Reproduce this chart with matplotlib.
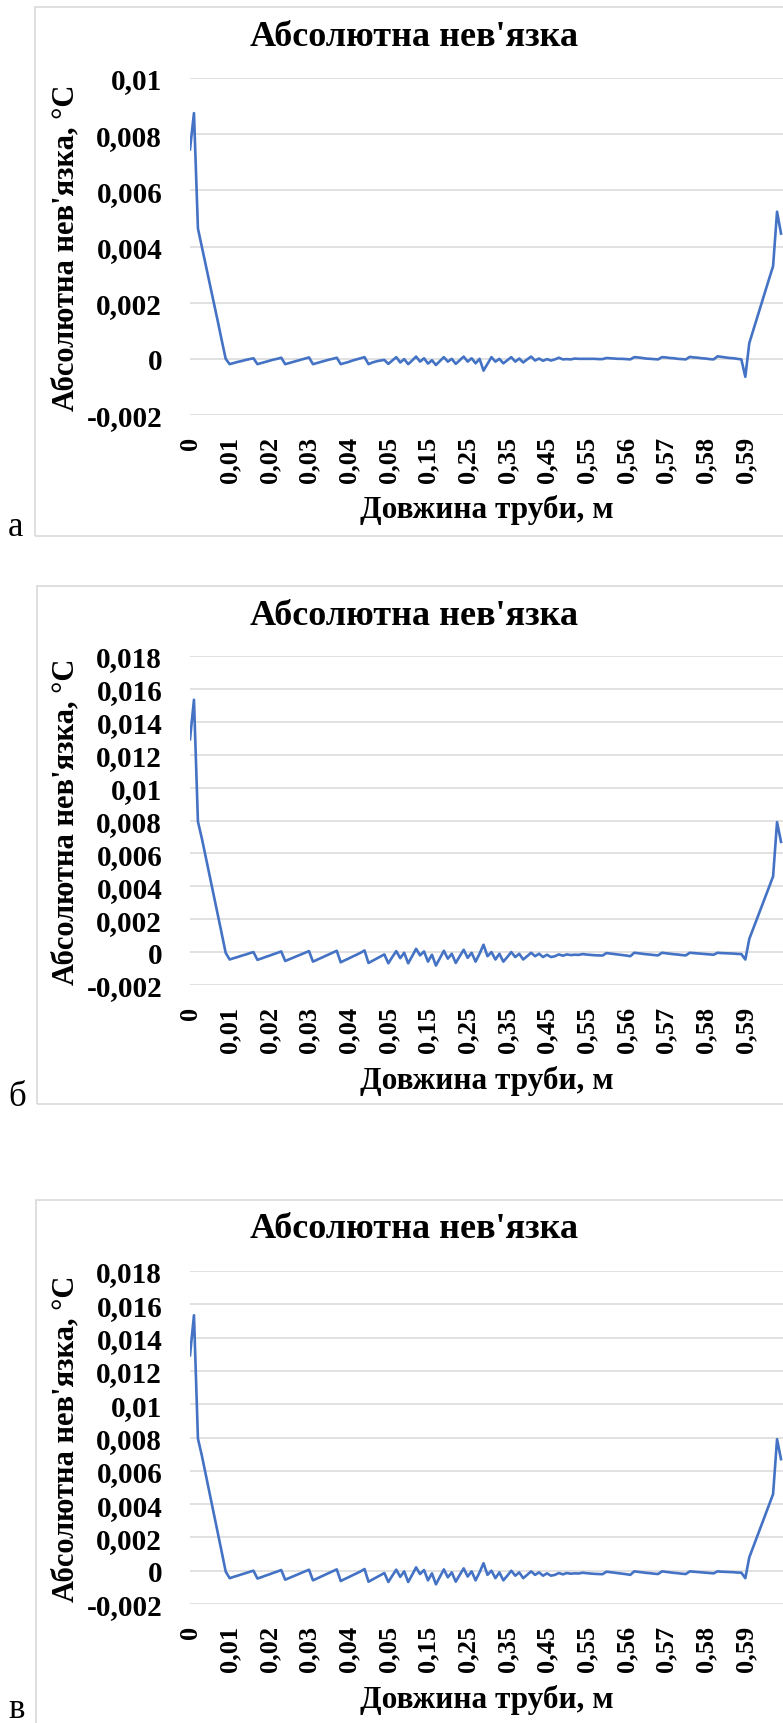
import numpy as np
import matplotlib
matplotlib.use("Agg")
import matplotlib.pyplot as plt
from matplotlib.patches import Rectangle

plt.rcParams["font.family"] = ["Liberation Serif", "DejaVu Serif"]
plt.rcParams["font.weight"] = "bold"

W, H = 783, 1724

# Абсолютна нев'язка по довжині труби (крок сітки 0,001 / 0,01 / 0,001 м)
x_labels = ["0", "0,01", "0,02", "0,03", "0,04", "0,05", "0,15", "0,25",
            "0,35", "0,45", "0,55", "0,56", "0,57", "0,58", "0,59"]

residual_a = [
    0.00746, 0.00875, 0.00464, 0.00398, 0.00332, 0.00266, 0.00200, 0.00134, 0.00066, 0.00000,
    -0.00019, -0.00015, -0.00011, -0.00008, -0.00004, -0.00001, 0.00002,
    -0.00019, -0.00015, -0.00011, -0.00007, -0.00003, 0.00000, 0.00004,
    -0.00019, -0.00015, -0.00011, -0.00007, -0.00003, 0.00001, 0.00005,
    -0.00019, -0.00015, -0.00011, -0.00007, -0.00003, 0.00000, 0.00004,
    -0.00019, -0.00015, -0.00011, -0.00006, -0.00002, 0.00002, 0.00006,
    -0.00019, -0.00013, -0.00009, -0.00006, -0.00004,
    -0.00018, -0.00006, 0.00006, -0.00013, -0.00001, -0.00019, -0.00006, 0.00008, -0.00010, 0.00002,
    -0.00017, -0.00005, -0.00022, -0.00008, 0.00006, -0.00010, 0.00000, -0.00018, -0.00005, 0.00008,
    -0.00010, 0.00002, -0.00016, 0.00000, -0.00042, -0.00018, 0.00006, -0.00010, 0.00000, -0.00016,
    -0.00005, 0.00006, -0.00010, 0.00001, -0.00013, -0.00002, 0.00008, -0.00006, 0.00001, -0.00007,
    -0.00001, -0.00006, -0.00002, 0.00004, -0.00002, -0.00001, -0.00002, 0.00001, 0.00000, 0.00000,
    0.00000, 0.00000, 0.00000, -0.00001, -0.00001,
    0.00003, 0.00002, 0.00001, 0.00000, 0.00000, -0.00001, -0.00002,
    0.00006, 0.00005, 0.00003, 0.00001, 0.00000, -0.00001, -0.00002,
    0.00006, 0.00005, 0.00003, 0.00002, 0.00000, -0.00001, -0.00002,
    0.00007, 0.00005, 0.00004, 0.00002, 0.00001, -0.00001, -0.00002,
    0.00009, 0.00007, 0.00005, 0.00003, 0.00002, 0.00000, -0.00002,
    -0.00064,
    0.00056, 0.00102, 0.00148, 0.00193, 0.00239, 0.00285, 0.00330,
    0.00524, 0.00446,
]

residual_b = [
    0.01294, 0.01534, 0.00793, 0.00690, 0.00575, 0.00460, 0.00345, 0.00230, 0.00112, -0.00005,
    -0.00045, -0.00037, -0.00030, -0.00022, -0.00015, -0.00007, 0.00000,
    -0.00047, -0.00039, -0.00030, -0.00022, -0.00013, -0.00005, 0.00004,
    -0.00054, -0.00044, -0.00034, -0.00024, -0.00014, -0.00004, 0.00006,
    -0.00058, -0.00047, -0.00036, -0.00025, -0.00014, -0.00003, 0.00008,
    -0.00062, -0.00050, -0.00039, -0.00027, -0.00016, -0.00004, 0.00010,
    -0.00066, -0.00053, -0.00040, -0.00027, -0.00014,
    -0.00068, -0.00030, 0.00006, -0.00037, -0.00004, -0.00068, -0.00025, 0.00020, -0.00020, 0.00004,
    -0.00058, -0.00016, -0.00082, -0.00037, 0.00008, -0.00040, -0.00010, -0.00066, -0.00025, 0.00014,
    -0.00035, -0.00004, -0.00058, -0.00010, 0.00045, -0.00025, 0.00000, -0.00045, -0.00010, -0.00058,
    -0.00030, 0.00000, -0.00030, -0.00010, -0.00045, -0.00025, -0.00004, -0.00025, -0.00010, -0.00030,
    -0.00016, -0.00030, -0.00025, -0.00014, -0.00022, -0.00014, -0.00018, -0.00016, -0.00017, -0.00012,
    -0.00015, -0.00017, -0.00019, -0.00020, -0.00021,
    -0.00006, -0.00009, -0.00012, -0.00015, -0.00018, -0.00021, -0.00025,
    -0.00004, -0.00007, -0.00010, -0.00013, -0.00015, -0.00018, -0.00020,
    -0.00004, -0.00007, -0.00010, -0.00013, -0.00015, -0.00018, -0.00020,
    -0.00004, -0.00006, -0.00008, -0.00010, -0.00012, -0.00014, -0.00016,
    -0.00004, -0.00006, -0.00007, -0.00008, -0.00009, -0.00011, -0.00012,
    -0.00045,
    0.00080, 0.00143, 0.00207, 0.00270, 0.00333, 0.00397, 0.00460,
    0.00790, 0.00670,
]

# третій варіант дає ту саму криву
residual_c = list(residual_b)

yticks_a = [-0.002, 0, 0.002, 0.004, 0.006, 0.008, 0.01]
yticks_b = [-0.002, 0, 0.002, 0.004, 0.006, 0.008, 0.01, 0.012, 0.014, 0.016, 0.018]

line_color = "#4472C4"
grid_color = "#D9D9D9"

fig = plt.figure(figsize=(W / 100, H / 100), dpi=100)


def comma(v):
    return ("%g" % v).replace(".", ",")


def panel(values, yticks, top, bottom, frame, title_y, ylab_y, xlab_y, letter, letter_y):
    # рамка діаграми
    fig.add_artist(Rectangle((frame[0] / W, 1 - frame[2] / H), (W + 20 - frame[0]) / W,
                             (frame[2] - frame[1]) / H, transform=fig.transFigure,
                             fill=False, ec=grid_color, lw=1.2))
    ax = fig.add_axes([190 / W, 1 - bottom / H, (W - 190) / W, (bottom - top) / H])
    x = np.arange(len(values))
    ax.plot(x, values, color=line_color, lw=1.9)
    ax.set_xlim(0, 149.5)
    ax.set_ylim(yticks[0], yticks[-1])
    ax.set_yticks(yticks)
    ax.set_yticklabels([comma(v) for v in yticks])
    ax.set_xticks(np.arange(0, 10 * len(x_labels), 10))
    ax.set_xticklabels(x_labels, rotation=90)
    ax.tick_params(axis="y", length=0, pad=20, labelsize=21)
    ax.tick_params(axis="x", length=0, pad=15, labelsize=19)
    ax.grid(axis="y", color=grid_color, lw=1.1)
    ax.set_axisbelow(True)
    for s in ax.spines.values():
        s.set_visible(False)
    fig.text(414 / W, 1 - title_y / H, "Абсолютна нев'язка", ha="center", va="center",
             fontsize=26, fontweight="bold")
    fig.text(66 / W, 1 - ylab_y / H, "Абсолютна нев'язка, °C", ha="center", va="center",
             rotation=90, fontsize=22, fontweight="bold")
    fig.text(487 / W, 1 - xlab_y / H, "Довжина труби, м", ha="center", va="center",
             fontsize=22.5, fontweight="bold")
    fig.text(8 / W, 1 - letter_y / H, letter, ha="left", va="baseline",
             fontsize=25, fontweight="normal")
    return ax


panel(residual_a, yticks_a, 79, 416, (35, 8, 537), 38, 248, 510, "а", 536)
panel(residual_b, yticks_b, 657, 986, (37, 587, 1105), 617, 822, 1081, "б", 1106)
panel(residual_c, yticks_b, 1272, 1605, (36, 1201, 1740), 1230, 1439, 1700, "в", 1718)

fig.savefig("out.png", dpi=100)
